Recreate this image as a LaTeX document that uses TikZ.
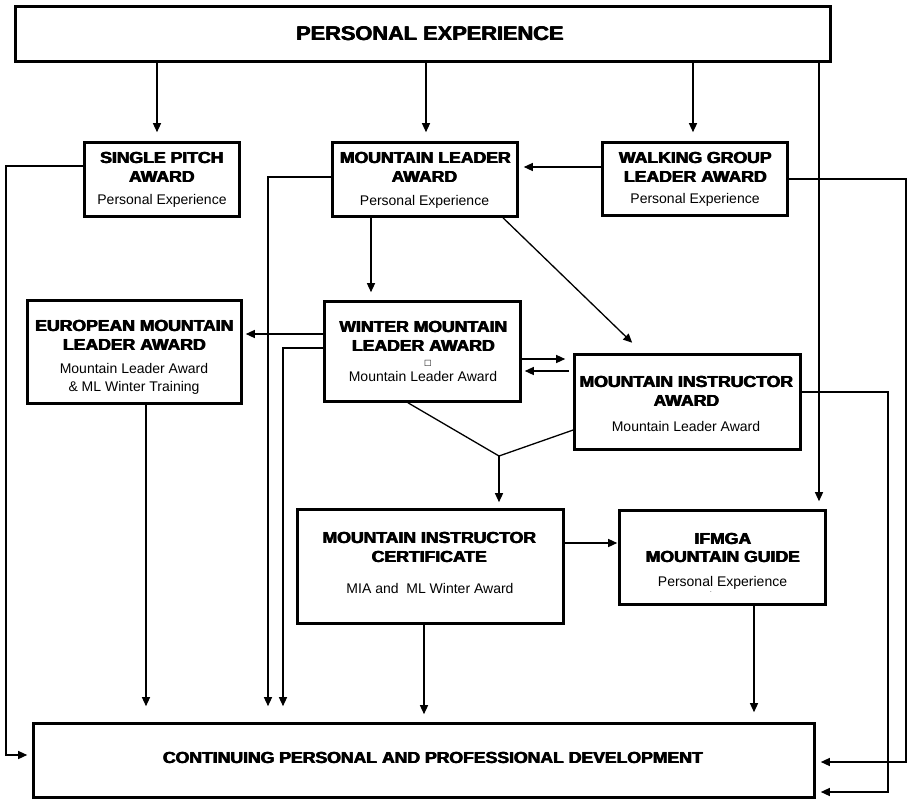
\documentclass[tikz,border=0pt]{standalone}
\usepackage{fontspec}
\setmainfont{Liberation Sans}
\newfontfamily\headfont[FakeStretch=1.1]{Liberation Sans}
\newfontfamily\symfont{DejaVu Sans}
\usetikzlibrary{arrows.meta,calc}
\newcommand\hv[1]{\leavevmode\rlap{\kern0.9pt#1}\rlap{\kern0.45pt\raisebox{0.35pt}{#1}}#1}
\tikzset{
  box/.style={draw, line width=2.6pt, inner sep=0pt, fill=white},
  ttl/.style={inner sep=0pt, anchor=center, font=\headfont\bfseries\fontsize{16}{19}\selectfont},
  sub/.style={inner sep=0pt, anchor=base, font=\fontsize{14}{17}\selectfont},
  conn/.style={line width=1.3pt},
  arr/.style={line width=1.3pt, -{Triangle[length=9pt,width=8pt]}},
}
\begin{document}
\begin{tikzpicture}[x=1pt,y=-1pt]
\useasboundingbox (0,0) rectangle (909,800);
% boxes
\node[box, minimum width=815pt, minimum height=55pt] (top) at (423,34) {};
\node[box, minimum width=155pt, minimum height=74pt] (sp) at (162,179.5) {};
\node[box, minimum width=185pt, minimum height=74pt] (ml) at (425,179.5) {};
\node[box, minimum width=185pt, minimum height=73pt] (wgl) at (695,179) {};
\node[box, minimum width=214pt, minimum height=103pt] (eml) at (134.5,352) {};
\node[box, minimum width=196pt, minimum height=100pt] (wml) at (422.5,351.5) {};
\node[box, minimum width=226pt, minimum height=95pt] (mia) at (687.5,402) {};
\node[box, minimum width=266pt, minimum height=114pt] (mic) at (430.5,566.5) {};
\node[box, minimum width=206pt, minimum height=94pt] (ifm) at (722.5,557.5) {};
\node[box, minimum width=781pt, minimum height=74pt] (cpd) at (424,760.5) {};
% texts
\node[ttl, font=\headfont\bfseries\fontsize{19.8}{22}\selectfont] (top-t) at (429.5,34) {\hv{PERSONAL EXPERIENCE}};
\node[ttl] (sp-t1) at (161.5,158) {\hv{SINGLE PITCH}};
\node[ttl] (sp-t2) at (161.5,177) {\hv{AWARD}};
\node[sub] (sp-s) at (162,204) {Personal Experience};
\node[ttl] (ml-t1) at (425,158) {\hv{MOUNTAIN LEADER}};
\node[ttl] (ml-t2) at (424,177) {\hv{AWARD}};
\node[sub] (ml-s) at (424.5,205) {Personal Experience};
\node[ttl] (wgl-t1) at (695,158) {\hv{WALKING GROUP}};
\node[ttl] (wgl-t2) at (695,177) {\hv{LEADER AWARD}};
\node[sub] (wgl-s) at (695,203) {Personal Experience};
\node[ttl] (eml-t1) at (134,326) {\hv{EUROPEAN MOUNTAIN}};
\node[ttl] (eml-t2) at (134,345) {\hv{LEADER AWARD}};
\node[sub] (eml-s1) at (134,373) {Mountain Leader Award};
\node[sub] (eml-s2) at (134,391) {\& ML Winter Training};
\node[ttl] (wml-t1) at (423,327) {\hv{WINTER MOUNTAIN}};
\node[ttl] (wml-t2) at (423,346) {\hv{LEADER AWARD}};
\node[inner sep=0pt, font=\symfont\fontsize{8}{8}\selectfont] (wml-g) at (428,363) {□};
\node[sub] (wml-s) at (423,381) {Mountain Leader Award};
\node[ttl] (mia-t1) at (686,382) {\hv{MOUNTAIN INSTRUCTOR}};
\node[ttl] (mia-t2) at (686,401) {\hv{AWARD}};
\node[sub] (mia-s) at (686,431) {Mountain Leader Award};
\node[ttl] (mic-t1) at (429,538) {\hv{MOUNTAIN INSTRUCTOR}};
\node[ttl] (mic-t2) at (429,557) {\hv{CERTIFICATE}};
\node[sub] (mic-s) at (430,593) {MIA and~ ML Winter Award};
\node[ttl] (ifm-t1) at (722.5,539) {\hv{IFMGA}};
\node[ttl] (ifm-t2) at (722.5,557) {\hv{MOUNTAIN GUIDE}};
\node[sub] (ifm-s) at (722.5,586) {Personal Experience};
\node[inner sep=0pt, font=\fontsize{6}{6}\selectfont] (ifm-d) at (711,592) {.};
\node[ttl] (cpd-t) at (432.5,758) {\hv{CONTINUING PERSONAL AND PROFESSIONAL DEVELOPMENT}};
% connectors
\coordinate (vj) at (499,456);
\draw[arr, shorten >=9pt] (157,0 |- top.south) -- (157,0 |- sp.north);
\draw[arr, shorten >=9pt] (426,0 |- top.south) -- (426,0 |- ml.north);
\draw[arr, shorten >=9pt] (693,0 |- top.south) -- (693,0 |- wgl.north);
\draw[arr, shorten >=8pt] (819,0 |- top.south) -- (819,0 |- ifm.north);
\draw[arr, shorten >=5pt] (wgl.west |- 0,167) -- (ml.east |- 0,167);
\draw[arr, shorten >=8pt] (371,0 |- ml.south) -- (371,0 |- wml.north);
\draw[arr, shorten >=15pt] (503,0 |- ml.south) -- (643,0 |- mia.north);
\draw[arr, shorten >=3pt] (wml.west |- 0,334) -- (eml.east |- 0,334);
\draw[arr, shorten >=8pt] (wml.east |- 0,359) -- (mia.west |- 0,359);
\draw[arr, shorten <=4pt, shorten >=3pt] (mia.west |- 0,371) -- (wml.east |- 0,371);
\draw[conn] (408,0 |- wml.south) -- (vj) -- (mia.west |- 0,430);
\draw[arr, shorten >=6pt] (vj) -- (vj |- mic.north);
\draw[arr, shorten >=1pt] (mic.east |- 0,543) -- (ifm.west |- 0,543);
\draw[arr, shorten >=5pt] (sp.west |- 0,166) -- (6,166) -- (6,755) -- (cpd.west |- 0,755);
\draw[arr, shorten >=16pt] (ml.west |- 0,177) -- (268,177) -- (268,0 |- cpd.north);
\draw[arr, shorten >=16pt] (wml.west |- 0,348) -- (283,348) -- (283,0 |- cpd.north);
\draw[arr, shorten >=16pt] (146,0 |- eml.south) -- (146,0 |- cpd.north);
\draw[arr, shorten >=8pt] (424,0 |- mic.south) -- (424,0 |- cpd.north);
\draw[arr, shorten >=10pt] (754,0 |- ifm.south) -- (754,0 |- cpd.north);
\draw[arr, shorten >=5pt] (wgl.east |- 0,179) -- (906,179) -- (906,762) -- (cpd.east |- 0,762);
\draw[arr, shorten >=5pt] (mia.east |- 0,392) -- (888,392) -- (888,792) -- (cpd.east |- 0,792);
\end{tikzpicture}
\end{document}
